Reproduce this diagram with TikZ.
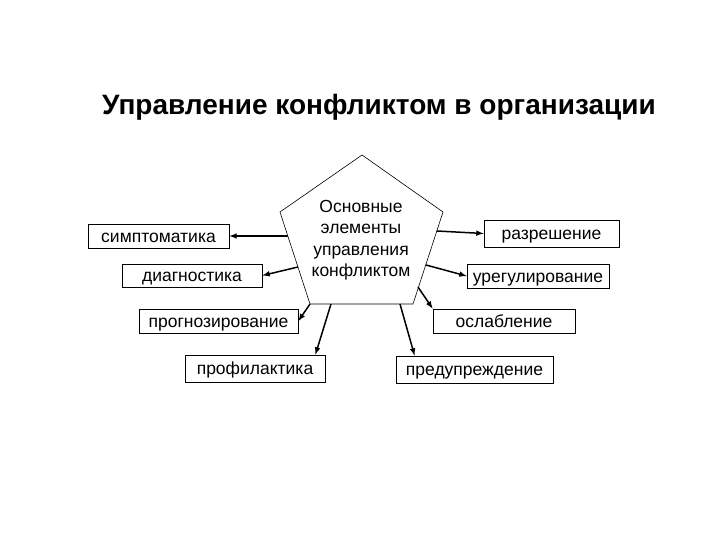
\documentclass[tikz,border=0pt]{standalone}
\usepackage{fontspec}
\setmainfont{Liberation Sans}
\begin{document}
\begin{tikzpicture}[x=1pt,y=-1pt,
  box/.style={draw,line width=0.8pt,inner sep=0pt,text height=1.2em,text depth=0pt,font=\fontsize{17.5}{17.5}\selectfont},
  link/.style={-latex,line width=1.5pt}]
\useasboundingbox (0,0) rectangle (720,540);
\node[font=\bfseries\fontsize{28}{28}\selectfont] (title) at (379,107) {Управление конфликтом в организации};
% pentagon
\coordinate (top) at (362,155);
\coordinate (rt) at (443,212);
\coordinate (br) at (413,304);
\coordinate (bl) at (310,304);
\coordinate (lf) at (280,212);
\draw[line width=0.6pt] (top) -- (rt) -- (br) -- (bl) -- (lf) -- cycle;
\node[align=center,font=\fontsize{17.5}{21.5}\selectfont] (core) at (361,240) {Основные\\элементы\\управления\\конфликтом};
% boxes
\node[box,minimum width=141pt,minimum height=24pt] (simp) at (158.5,236) {симптоматика};
\node[box,minimum width=140pt,minimum height=23pt] (diag) at (192,275.5) {диагностика};
\node[box,minimum width=159pt,minimum height=24pt] (prog) at (218.5,321) {прогнозирование};
\node[box,minimum width=140pt,minimum height=27pt] (prof) at (255,368.5) {профилактика};
\node[box,minimum width=135pt,minimum height=27pt] (razr) at (551.5,233.5) {разрешение};
\node[box,minimum width=142pt,minimum height=24pt] (ureg) at (538,276) {урегулирование};
\node[box,minimum width=142pt,minimum height=24pt] (osl) at (504,321) {ослабление};
\node[box,minimum width=157pt,minimum height=27pt] (pred) at (474.5,369.5) {предупреждение};
% arrow starts
\coordinate (s1) at (288,236);
\coordinate (s2) at (298,267);
\coordinate (s4) at (331,304);
\coordinate (s5) at (437,231);
\coordinate (s6) at (426,265);
\coordinate (s7) at (418,287);
\coordinate (s8) at (400,304);
\draw[link] (s1) -- (simp.east);
\draw[link] (s2) -- (diag.east);
\draw[link] (bl) -- (prog.east);
\draw[link] (s4) -- ([xshift=-10pt]prof.north east);
\draw[link] (s5) -- (razr.west);
\draw[link] (s6) -- (ureg.west);
\draw[link] (s7) -- (osl.north west);
\draw[link] (s8) -- ([xshift=19pt]pred.north west);
\end{tikzpicture}
\end{document}
